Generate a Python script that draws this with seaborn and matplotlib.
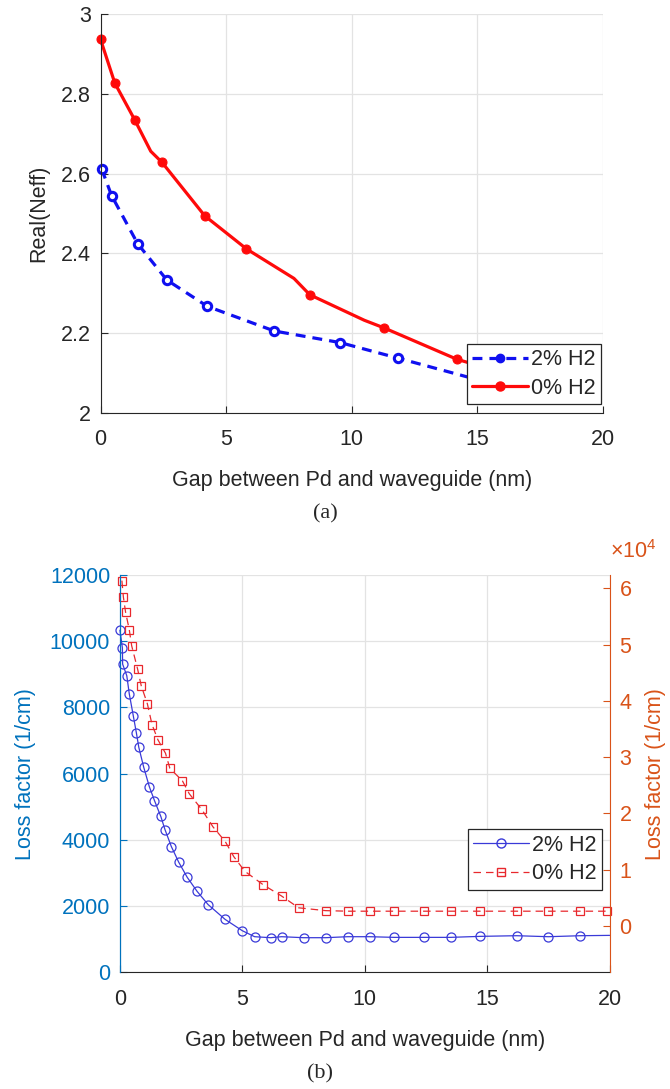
import numpy as np
import pandas as pd
import seaborn as sns
import matplotlib.pyplot as plt
from matplotlib.ticker import FuncFormatter
from matplotlib.lines import Line2D

# (a) real part of the effective index vs gap
gap_h2 = [0.05, 0.44, 1.48, 2.64, 4.25, 6.92, 9.54, 11.84, 14.94, 19.0]
neff_h2 = [2.611, 2.545, 2.424, 2.333, 2.267, 2.205, 2.176, 2.137, 2.084, 2.04]
gap_air = [0.0, 0.57, 1.36, 2.0, 2.45, 4.15, 5.81, 7.7, 8.33, 10.5, 11.28, 14.19, 15.5, 19.0]
neff_air = [2.937, 2.827, 2.735, 2.656, 2.628, 2.494, 2.411, 2.337, 2.296, 2.232, 2.213, 2.134, 2.11, 2.06]

# (b) loss factor vs gap (1/cm)
loss_gap_h2 = [0.0, 0.1, 0.11, 0.28, 0.38, 0.55, 0.67, 0.77, 0.97, 1.2, 1.41, 1.67, 1.84,
               2.1, 2.4, 2.75, 3.15, 3.6, 4.3, 5.0, 5.5, 6.15, 6.6, 7.5, 8.4, 9.3, 10.2,
               11.2, 12.4, 13.5, 14.7, 16.2, 17.5, 18.8, 20.0]
loss_h2 = [10333, 9800, 9310, 8960, 8420, 7730, 7240, 6800, 6200, 5610, 5190, 4710, 4313,
           3800, 3330, 2870, 2450, 2050, 1600, 1260, 1080, 1050, 1080, 1050, 1050, 1080, 1080,
           1060, 1060, 1060, 1090, 1110, 1080, 1110, 1120]
loss_gap_air = [0.08, 0.14, 0.23, 0.38, 0.48, 0.72, 0.87, 1.12, 1.31, 1.55, 1.86, 2.04, 2.55,
                2.83, 3.34, 3.8, 4.3, 4.65, 5.1, 5.85, 6.6, 7.3, 8.4, 9.3, 10.2, 11.2, 12.4,
                13.5, 14.7, 16.2, 17.5, 18.8, 19.9]
loss_air = [61400, 58500, 55800, 52700, 49800, 45700, 42700, 39500, 35800, 33100, 30700, 28000,
            25800, 23500, 20700, 17600, 15000, 12300, 9700, 7300, 5300, 3200, 2700, 2600, 2600,
            2600, 2600, 2600, 2600, 2600, 2600, 2600, 2600]

x_ticks = [0, 5, 10, 15, 20]
neff_ticks = [2, 2.2, 2.4, 2.6, 2.8, 3]
loss_ticks = [0, 2000, 4000, 6000, 8000, 10000, 12000]
loss_air_ticks = [0, 10000, 20000, 30000, 40000, 50000, 60000]
labels = ['2% H2', '0% H2']

sns.set_style('ticks')
plt.rcParams['font.family'] = ['Liberation Sans', 'DejaVu Sans']
plt.rcParams['mathtext.fontset'] = 'custom'
plt.rcParams['mathtext.rm'] = 'Liberation Sans'
plt.rcParams['xtick.direction'] = 'in'
plt.rcParams['ytick.direction'] = 'in'

dark = '#262626'
grid_c = '#e3e3e3'
left_c = '#0072BD'
right_c = '#D95319'
fs = 15.5

fig = plt.figure(figsize=(6.7, 10.89), dpi=100)

# ---- (a)
ax1 = fig.add_axes([0.150, 0.621, 0.750, 0.366])
df_h2 = pd.DataFrame({'gap': gap_h2, 'neff': neff_h2})
df_air = pd.DataFrame({'gap': gap_air, 'neff': neff_air})
sns.lineplot(data=df_h2, x='gap', y='neff', ax=ax1, color='#1010f0', lw=2.3,
             linestyle=(0, (3.1, 2.2)), marker='o', ms=6, mfc='white', mec='#1010f0',
             mew=2.2, markevery=list(range(8)), estimator=None, sort=False, clip_on=False)
sns.lineplot(data=df_air, x='gap', y='neff', ax=ax1, color='#ff0a0a', lw=2.3,
             marker='o', ms=6.5, mec='#ff0a0a', markevery=[0, 1, 2, 4, 5, 6, 8, 10, 11],
             estimator=None, sort=False, clip_on=False)
ax1.set_xlim(0, 20)
ax1.set_ylim(2, 3)
ax1.set_xticks(x_ticks)
ax1.set_yticks(neff_ticks)
ax1.yaxis.set_major_formatter(FuncFormatter(lambda v, p: '%g' % v))
ax1.grid(True, color=grid_c, lw=0.9)
ax1.set_axisbelow(True)
for s in ['top', 'right']:
    ax1.spines[s].set_visible(False)
for s in ['left', 'bottom']:
    ax1.spines[s].set_color(dark)
ax1.tick_params(colors=dark, labelsize=fs, length=5)
ax1.tick_params(axis='x', pad=12)
ax1.tick_params(axis='y', pad=7)
ax1.set_xlabel('Gap between Pd and waveguide (nm)', fontsize=fs, color=dark, labelpad=14)
ax1.set_ylabel('Real(Neff)', fontsize=fs, color=dark, labelpad=8)
h1 = [Line2D([], [], color='#1010f0', lw=2.3, linestyle=(0, (3.1, 2.2)), marker='o', ms=6,
             mfc='#1010f0', mec='#1010f0'),
      Line2D([], [], color='#ff0a0a', lw=2.3, marker='o', ms=6.5, mec='#ff0a0a')]
leg1 = ax1.legend(h1, labels, loc='lower right', bbox_to_anchor=(0.997, 0.022), fontsize=fs,
                  frameon=True, fancybox=False, edgecolor=dark, framealpha=1,
                  handlelength=2.6, handletextpad=0.15, borderpad=0.25, labelspacing=0.35,
                  borderaxespad=0)
leg1.get_frame().set_linewidth(0.9)
leg1.set_zorder(10)
fig.text(0.485, 0.528, '(a)', ha='center', va='center', fontsize=16,
         family=['Liberation Serif', 'DejaVu Serif'])

# ---- (b)
ax = fig.add_axes([0.179, 0.107, 0.731, 0.365])
ax2 = ax.twinx()
df_l2 = pd.DataFrame({'gap': loss_gap_h2, 'loss': loss_h2})
df_l0 = pd.DataFrame({'gap': loss_gap_air, 'loss': loss_air})
sns.lineplot(data=df_l2, x='gap', y='loss', ax=ax, color='#3a3ad8', lw=0.9, marker='o',
             ms=6.5, mfc='none', mec='#3a3ad8', mew=0.9, markevery=list(range(34)),
             estimator=None, sort=False, clip_on=False)
sns.lineplot(data=df_l0, x='gap', y='loss', ax=ax2, color='#e8282d', lw=0.9,
             linestyle=(0, (6, 4)), marker='s', ms=5.2, mfc='none', mec='#e8282d', mew=0.9,
             estimator=None, sort=False, clip_on=False)
ax.set_xlim(0, 20)
ax.set_ylim(0, 12000)
ax2.set_ylim(-8300, 62400)
ax.set_xticks(x_ticks)
ax.set_yticks(loss_ticks)
ax2.set_yticks(loss_air_ticks)
ax2.yaxis.set_major_formatter(FuncFormatter(lambda v, p: '%g' % (v / 1e4)))
ax2.text(1.0, 1.03, r'$\times10^{4}$', transform=ax2.transAxes, ha='left', va='bottom',
         fontsize=fs, color=right_c)
ax.grid(True, color=grid_c, lw=0.9)
ax.set_axisbelow(True)
ax.spines['top'].set_visible(False)
ax2.spines['top'].set_visible(False)
ax.spines['right'].set_visible(False)
ax2.spines['left'].set_color(left_c)
ax2.spines['right'].set_color(right_c)
ax.spines['left'].set_color(left_c)
ax.spines['bottom'].set_color(dark)
ax2.spines['bottom'].set_visible(False)
ax.tick_params(axis='x', colors=dark, labelsize=fs, length=5, pad=12)
ax.tick_params(axis='y', colors=left_c, labelsize=fs, length=5, pad=7)
ax2.tick_params(axis='y', colors=right_c, labelsize=fs, length=5, pad=7)
ax.set_xlabel('Gap between Pd and waveguide (nm)', fontsize=fs, color=dark, labelpad=14)
ax.set_ylabel('Loss factor (1/cm)', fontsize=fs, color=left_c, labelpad=10)
ax2.set_ylabel('Loss factor (1/cm)', fontsize=fs, color=right_c, rotation=90, labelpad=10)
h2 = [Line2D([], [], color='#3a3ad8', lw=0.9, marker='o', ms=6.5, mfc='none', mec='#3a3ad8'),
      Line2D([], [], color='#e8282d', lw=0.9, linestyle=(0, (6, 4)), marker='s', ms=5.2,
             mfc='none', mec='#e8282d')]
leg2 = ax2.legend(h2, labels, loc='upper left', bbox_to_anchor=(0.71, 0.36), fontsize=fs,
                  frameon=True, fancybox=False, edgecolor=dark, framealpha=1,
                  handlelength=2.6, handletextpad=0.15, borderpad=0.25, labelspacing=0.35,
                  borderaxespad=0)
leg2.get_frame().set_linewidth(0.9)
leg2.set_zorder(10)
fig.text(0.478, 0.014, '(b)', ha='center', va='center', fontsize=16,
         family=['Liberation Serif', 'DejaVu Serif'])

fig.savefig('out.png', dpi=100)
